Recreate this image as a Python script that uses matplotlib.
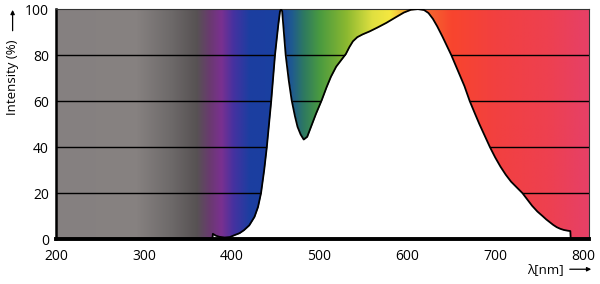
import numpy as np
import matplotlib
matplotlib.use("agg")
import matplotlib.pyplot as plt
from matplotlib.colors import to_rgb
from matplotlib.patches import FancyArrowPatch

# emission spectrum (nm, % intensity)
wavelength = [378, 378.6, 382, 386, 392, 398, 403, 409, 414, 420, 426, 430, 433.4,
              437, 440, 445, 449.3, 453, 455, 456.3, 457.5, 461.5, 465, 468.3, 472,
              475, 478.5, 482, 486, 490.3, 496, 502.5, 508, 513, 519, 525, 530, 534,
              538, 543, 549, 557, 566, 576, 587, 596, 604, 612, 619, 624, 629, 634,
              640, 645, 650, 655, 660, 665, 671, 677, 682, 688, 694, 700, 706, 712,
              718, 725, 731, 737, 742, 748, 754, 758, 762, 766, 770, 774, 778, 782,
              785.5, 786]
intensity = [0, 2.3, 1.5, 1.0, 0.7, 0.9, 1.7, 2.6, 3.9, 6.0, 9.7, 14, 20,
             30, 40, 60, 80, 93, 99, 100, 99, 80, 69, 60.4, 53.5,
             48.8, 45.5, 43.3, 44.5, 48.8, 54.5, 60.4, 66, 70.6, 75, 78, 80.5, 83.5,
             86, 87.8, 89, 90.3, 92, 94, 96.5, 98.5, 99.7, 100, 99.6, 98.3, 95.8, 92.5,
             88, 84, 80, 75.5, 71, 66.5, 60, 54.5, 50, 45, 40, 35.5, 31.5, 28,
             25, 22.3, 20, 17, 14.5, 12, 10, 8.6, 7.4, 6.2, 5.2, 4.5, 4.0, 3.7,
             3.5, 0]

x_ticks = [200, 300, 400, 500, 600, 700, 800]
y_ticks = [0, 20, 40, 60, 80, 100]

# background colour stops (nm, colour)
spectrum_nm = [200, 290, 330, 360, 375, 388, 402, 420, 455, 468, 482, 500, 530,
               560, 580, 600, 620, 650, 700, 760, 807]
spectrum_col = ["#858080", "#878281", "#6e6a6a", "#575253", "#6a3a70", "#7a3090",
                "#4532a0", "#1c3ea0", "#1a40a0", "#1f5a90", "#2e7a60", "#4a9a40",
                "#8ab830", "#e0e040", "#f5e840", "#f5a030", "#f56a30", "#f8452e",
                "#f24040", "#ee4050", "#e64068"]

plt.rcParams["font.family"] = ["Open Sans", "DejaVu Sans"]

fig = plt.figure(figsize=(6, 2.84), dpi=100)
ax = fig.add_axes([0.0933, 0.158, 0.8887, 0.81])

x_lo, x_hi = 200, 807
grid_nm = np.linspace(x_lo, x_hi, 1200)
rgb = np.array([to_rgb(c) for c in spectrum_col])
img = np.stack([np.interp(grid_nm, spectrum_nm, rgb[:, k]) for k in range(3)], axis=-1)
ax.imshow(img[np.newaxis, :, :], extent=[x_lo, x_hi, 0, 100], aspect="auto",
          interpolation="bilinear", zorder=0)

for yv in y_ticks[1:-1]:
    ax.axhline(yv, color="black", lw=1.0, zorder=1)

ax.fill_between(wavelength, intensity, 0, color="white", lw=0, zorder=2)
ax.plot(wavelength, intensity, color="black", lw=1.3, zorder=3,
        solid_joinstyle="round", clip_on=True)

ax.set_xlim(x_lo, x_hi)
ax.set_ylim(0, 100)
ax.set_xticks(x_ticks)
ax.set_yticks(y_ticks)
ax.tick_params(length=0, labelsize=10)
ax.tick_params(axis="x", pad=7)
ax.tick_params(axis="y", pad=5)

for side in ["top", "right"]:
    ax.spines[side].set_linewidth(0.8)
    ax.spines[side].set_color("#333333")
ax.spines["left"].set_linewidth(1.8)
ax.spines["bottom"].set_linewidth(2.8)
ax.spines["bottom"].set_zorder(5)

# axis labels with arrows
fig.text(0.021, 0.728, "Intensity (%)", rotation=90, ha="center", va="center", fontsize=9.5)
fig.add_artist(FancyArrowPatch((0.021, 0.882), (0.021, 0.975), transform=fig.transFigure,
                               arrowstyle="-|>", mutation_scale=6, lw=0.9, color="black"))
fig.text(0.878, 0.052, "λ[nm]", ha="left", va="center", fontsize=9.5)
fig.add_artist(FancyArrowPatch((0.945, 0.052), (0.99, 0.052), transform=fig.transFigure,
                               arrowstyle="-|>", mutation_scale=6, lw=0.9, color="black"))

fig.savefig("out.png", dpi=100)
